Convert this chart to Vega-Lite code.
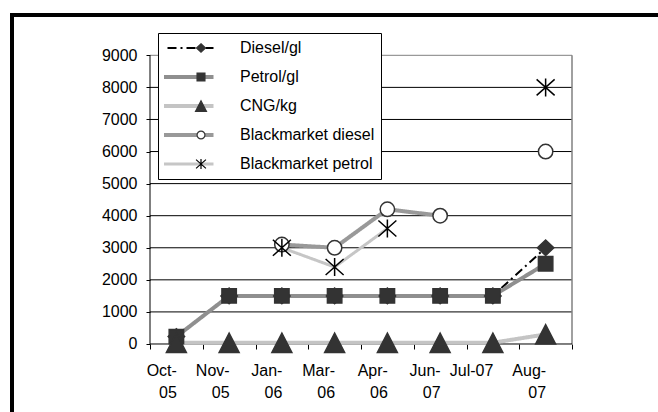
{
  "$schema": "https://vega.github.io/schema/vega-lite/v6.json",
  "width": 650,
  "height": 400,
  "autosize": {"type": "none"},
  "padding": {"left": 12, "top": 15, "right": 0, "bottom": 0},
  "background": "white",
  "config": {
    "view": {"stroke": "black", "strokeWidth": 4},
    "font": "Liberation Sans",
    "axis": {"labelFont": "Liberation Sans", "labelFontSize": 16, "labelColor": "black", "tickColor": "black", "domain": false, "grid": false, "title": null},
    "legend": {"labelFont": "Liberation Sans", "labelFontSize": 16, "labelColor": "black"}
  },
  "data": {
    "values": [
      {"series": "Diesel/gl", "month": "Oct-05", "v": 230},
      {"series": "Diesel/gl", "month": "Nov-05", "v": 1500},
      {"series": "Diesel/gl", "month": "Jan-06", "v": 1500},
      {"series": "Diesel/gl", "month": "Mar-06", "v": 1500},
      {"series": "Diesel/gl", "month": "Apr-06", "v": 1500},
      {"series": "Diesel/gl", "month": "Jun-07", "v": 1500},
      {"series": "Diesel/gl", "month": "Jul-07", "v": 1500},
      {"series": "Diesel/gl", "month": "Aug-07", "v": 3000},
      {"series": "Petrol/gl", "month": "Oct-05", "v": 230},
      {"series": "Petrol/gl", "month": "Nov-05", "v": 1500},
      {"series": "Petrol/gl", "month": "Jan-06", "v": 1500},
      {"series": "Petrol/gl", "month": "Mar-06", "v": 1500},
      {"series": "Petrol/gl", "month": "Apr-06", "v": 1500},
      {"series": "Petrol/gl", "month": "Jun-07", "v": 1500},
      {"series": "Petrol/gl", "month": "Jul-07", "v": 1500},
      {"series": "Petrol/gl", "month": "Aug-07", "v": 2500},
      {"series": "CNG/kg", "month": "Oct-05", "v": 40},
      {"series": "CNG/kg", "month": "Nov-05", "v": 40},
      {"series": "CNG/kg", "month": "Jan-06", "v": 40},
      {"series": "CNG/kg", "month": "Mar-06", "v": 40},
      {"series": "CNG/kg", "month": "Apr-06", "v": 40},
      {"series": "CNG/kg", "month": "Jun-07", "v": 40},
      {"series": "CNG/kg", "month": "Jul-07", "v": 40},
      {"series": "CNG/kg", "month": "Aug-07", "v": 300},
      {"series": "Blackmarket diesel", "month": "Jan-06", "v": 3100},
      {"series": "Blackmarket diesel", "month": "Mar-06", "v": 3000},
      {"series": "Blackmarket diesel", "month": "Apr-06", "v": 4200},
      {"series": "Blackmarket diesel", "month": "Jun-07", "v": 4000},
      {"series": "Blackmarket diesel", "month": "Jul-07", "v": null},
      {"series": "Blackmarket diesel", "month": "Aug-07", "v": 6000},
      {"series": "Blackmarket petrol", "month": "Jan-06", "v": 3000},
      {"series": "Blackmarket petrol", "month": "Mar-06", "v": 2400},
      {"series": "Blackmarket petrol", "month": "Apr-06", "v": 3600},
      {"series": "Blackmarket petrol", "month": "Jun-07", "v": null},
      {"series": "Blackmarket petrol", "month": "Jul-07", "v": null},
      {"series": "Blackmarket petrol", "month": "Aug-07", "v": 8000}
    ]
  },
  "layer": [
    {
      "data": {"values": [{"g": 1000}, {"g": 2000}, {"g": 3000}, {"g": 4000}, {"g": 5000}, {"g": 6000}, {"g": 7000}, {"g": 8000}]},
      "mark": {"type": "rule", "color": "black", "strokeWidth": 1},
      "encoding": {
        "y": {"field": "g", "type": "quantitative", "scale": {"domain": [-2213.4, 10256.3], "nice": false, "zero": false}},
        "x": {"datum": "Oct-05", "type": "nominal", "bandPosition": 0, "scale": {"type": "band", "domain": ["Oct-05", "Nov-05", "Jan-06", "Mar-06", "Apr-06", "Jun-07", "Jul-07", "Aug-07"], "paddingInner": 0, "paddingOuter": 0, "range": [138, 560]}},
        "x2": {"datum": "Aug-07", "bandPosition": 1}
      }
    },
    {
      "data": {"values": [{}]},
      "mark": {"type": "rule", "color": "#808080", "strokeWidth": 1},
      "encoding": {
        "y": {"datum": 9000, "type": "quantitative", "scale": {"domain": [-2213.4, 10256.3], "nice": false, "zero": false}},
        "x": {"datum": "Oct-05", "type": "nominal", "bandPosition": 0, "scale": {"type": "band", "domain": ["Oct-05", "Nov-05", "Jan-06", "Mar-06", "Apr-06", "Jun-07", "Jul-07", "Aug-07"], "paddingInner": 0, "paddingOuter": 0, "range": [138, 560]}},
        "x2": {"datum": "Aug-07", "bandPosition": 1}
      }
    },
    {
      "data": {"values": [{}]},
      "mark": {"type": "rule", "color": "#808080", "strokeWidth": 1.5},
      "encoding": {
        "x": {"datum": "Aug-07", "type": "nominal", "bandPosition": 1, "scale": {"type": "band", "domain": ["Oct-05", "Nov-05", "Jan-06", "Mar-06", "Apr-06", "Jun-07", "Jul-07", "Aug-07"], "paddingInner": 0, "paddingOuter": 0, "range": [138, 560]}},
        "y": {"datum": 0, "type": "quantitative", "scale": {"domain": [-2213.4, 10256.3], "nice": false, "zero": false}},
        "y2": {"datum": 9000}
      }
    },
    {
      "data": {"values": [{}]},
      "mark": {"type": "rule", "color": "black", "strokeWidth": 1},
      "encoding": {
        "x": {"datum": "Oct-05", "type": "nominal", "bandPosition": 0, "scale": {"type": "band", "domain": ["Oct-05", "Nov-05", "Jan-06", "Mar-06", "Apr-06", "Jun-07", "Jul-07", "Aug-07"], "paddingInner": 0, "paddingOuter": 0, "range": [138, 560]}},
        "y": {"datum": 0, "type": "quantitative", "scale": {"domain": [-2213.4, 10256.3], "nice": false, "zero": false}},
        "y2": {"datum": 9000}
      }
    },
    {
      "data": {"values": [{}]},
      "mark": {"type": "rule", "color": "black", "strokeWidth": 1},
      "encoding": {
        "y": {"datum": 0, "type": "quantitative", "scale": {"domain": [-2213.4, 10256.3], "nice": false, "zero": false}},
        "x": {"datum": "Oct-05", "type": "nominal", "bandPosition": 0, "scale": {"type": "band", "domain": ["Oct-05", "Nov-05", "Jan-06", "Mar-06", "Apr-06", "Jun-07", "Jul-07", "Aug-07"], "paddingInner": 0, "paddingOuter": 0, "range": [138, 560]}},
        "x2": {"datum": "Aug-07", "bandPosition": 1}
      }
    },
    {
      "mark": {"type": "line", "invalid": "break-paths-filter-domains"},
      "encoding": {
        "x": {
          "field": "month", "type": "nominal", "bandPosition": 0.5,
          "scale": {"type": "band", "domain": ["Oct-05", "Nov-05", "Jan-06", "Mar-06", "Apr-06", "Jun-07", "Jul-07", "Aug-07"], "paddingInner": 0, "paddingOuter": 0, "range": [138, 560]},
          "axis": {"tickBand": "extent", "offset": -71, "ticks": true, "tickSize": 5, "tickWidth": 1, "tickColor": "black", "labelPadding": 13, "labelBaseline": "top", "labelAngle": 0, "labelLineHeight": 22, "labelOverlap": false, "labelFontSize": 16, "labelExpr": "datum.label == 'Jul-07' ? datum.label : [slice(datum.label, 0, 4), slice(datum.label, 4)]", "domain": false, "grid": false, "title": null}
        },
        "y": {
          "field": "v", "type": "quantitative",
          "scale": {"domain": [-2213.4, 10256.3], "nice": false, "zero": false},
          "axis": {"values": [0, 1000, 2000, 3000, 4000, 5000, 6000, 7000, 8000, 9000], "format": "d", "offset": -138, "tickSize": 4, "tickColor": "black", "labelPadding": 9, "labelFontSize": 16, "domain": false, "grid": false, "title": null}
        },
        "color": {
          "field": "series", "type": "nominal",
          "scale": {"domain": ["Diesel/gl", "Petrol/gl", "CNG/kg", "Blackmarket diesel", "Blackmarket petrol"], "range": ["#000000", "#8f8f8f", "#c4c4c4", "#999999", "#c6c6c6"]},
          "legend": {
            "title": null, "orient": "none", "legendX": 146, "legendY": 18, "padding": 6,
            "fillColor": "white", "strokeColor": "black",
            "symbolType": "stroke", "symbolSize": 4225, "clipHeight": 18, "rowPadding": 11,
            "symbolOffset": 9, "labelOffset": 51, "labelFontSize": 16, "symbolStrokeWidth": 4,
            "encoding": {"symbols": {"strokeWidth": {"value": {"expr": "datum.value === 'Diesel/gl' ? 2 : datum.value === 'Blackmarket petrol' ? 3 : 4"}}}}
          }
        },
        "strokeDash": {
          "field": "series", "type": "nominal",
          "scale": {"domain": ["Diesel/gl", "Petrol/gl", "CNG/kg", "Blackmarket diesel", "Blackmarket petrol"], "range": [[9, 4, 2, 4], [1, 0], [1, 0], [1, 0], [1, 0]]}
        },
        "strokeWidth": {
          "condition": [
            {"test": "datum.series === 'Diesel/gl'", "value": 2},
            {"test": "datum.series === 'Blackmarket petrol'", "value": 3}
          ],
          "value": 4
        },
        "order": {"value": null}
      }
    },
    {
      "mark": {"type": "point", "size": 400, "strokeWidth": 1.5, "opacity": 1},
      "encoding": {
        "x": {"field": "month", "type": "nominal", "bandPosition": 0.5, "scale": {"type": "band", "domain": ["Oct-05", "Nov-05", "Jan-06", "Mar-06", "Apr-06", "Jun-07", "Jul-07", "Aug-07"], "paddingInner": 0, "paddingOuter": 0, "range": [138, 560]}},
        "y": {"field": "v", "type": "quantitative", "scale": {"domain": [-2213.4, 10256.3], "nice": false, "zero": false}},
        "shape": {
          "field": "series", "type": "nominal",
          "sort": ["Diesel/gl", "Petrol/gl", "CNG/kg", "Blackmarket diesel", "Blackmarket petrol"],
          "scale": {"range": [
            "M0,-0.78L0.82,0L0,0.78L-0.82,0Z",
            "M-0.72,-0.72H0.72V0.72H-0.72Z",
            "M0,-0.97L1,0.97H-1Z",
            "M0.72,0A0.72,0.72,0,1,1,-0.72,0A0.72,0.72,0,1,1,0.72,0Z",
            "M0,-0.9V0.9M-0.9,-0.8L0.9,0.8M-0.9,0.8L0.9,-0.8"
          ]},
          "legend": {
            "title": null, "orient": "none", "legendX": 181, "legendY": 24, "padding": 0, "clipHeight": 18, "rowPadding": 11, "symbolSize": 120, "labelOpacity": 0, "labelExpr": "''", "symbolStrokeWidth": 1.2,
            "encoding": {"symbols": {
              "fill": {"value": {"expr": "datum.value === 'Blackmarket diesel' ? '#ffffff' : datum.value === 'Blackmarket petrol' ? 'transparent' : '#333333'"}},
              "stroke": {"value": {"expr": "datum.value === 'Blackmarket petrol' ? '#000000' : '#333333'"}},
              "strokeWidth": {"value": 1.2},
              "opacity": {"value": 1}
            }}
          }
        },
        "fill": {
          "field": "series", "type": "nominal",
          "sort": ["Diesel/gl", "Petrol/gl", "CNG/kg", "Blackmarket diesel", "Blackmarket petrol"],
          "scale": {"range": ["#333333", "#333333", "#333333", "#ffffff", "#000000"]},
          "legend": null
        },
        "stroke": {
          "field": "series", "type": "nominal",
          "sort": ["Diesel/gl", "Petrol/gl", "CNG/kg", "Blackmarket diesel", "Blackmarket petrol"],
          "scale": {"range": ["#333333", "#333333", "#333333", "#333333", "#000000"]},
          "legend": null
        }
      }
    }
  ]
}
